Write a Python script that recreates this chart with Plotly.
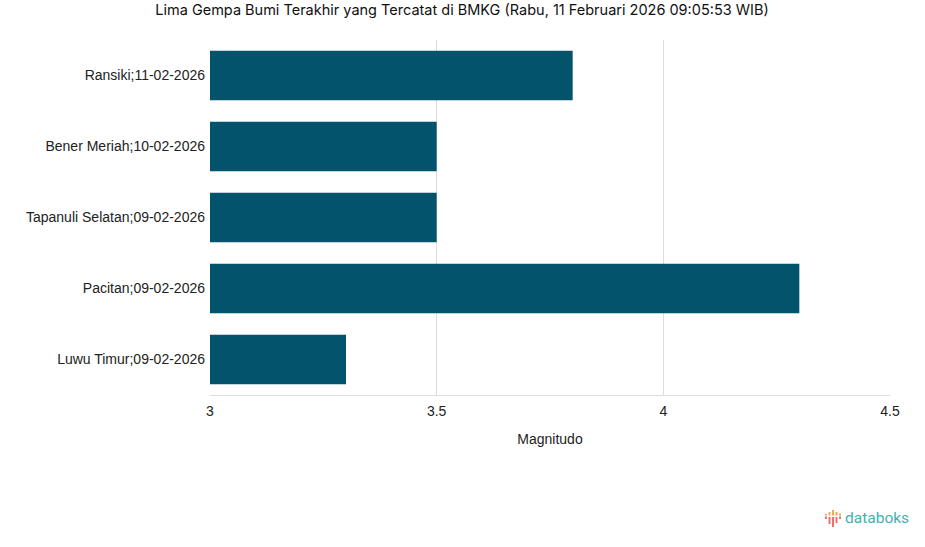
import plotly.graph_objects as go

categories = ["Ransiki;11-02-2026", "Bener Meriah;10-02-2026", "Tapanuli Selatan;09-02-2026",
              "Pacitan;09-02-2026", "Luwu Timur;09-02-2026"]
magnitudes = [3.8, 3.5, 3.5, 4.3, 3.3]
tick_vals = [3, 3.5, 4, 4.5]
tick_text = ["3", "3.5", "4", "4.5"]

fig = go.Figure(go.Bar(
    y=categories, x=magnitudes, orientation="h",
    marker=dict(color="#02536B", line=dict(width=0)),
    width=0.7, base=0,
))

fig.update_layout(
    width=925, height=547,
    margin=dict(l=210, r=35, t=40, b=152),
    paper_bgcolor="white", plot_bgcolor="white",
    title=dict(text="Lima Gempa Bumi Terakhir yang Tercatat di BMKG (Rabu, 11 Februari 2026 09:05:53 WIB)",
               x=462 / 925, xanchor="center", y=1 - 10 / 547, yanchor="middle",
               font=dict(family="Inter", size=14.5, color="#111111")),
    showlegend=False,
    font=dict(family="Liberation Sans, Arial", size=14, color="#222222"),
    bargap=0.3,
)
fig.update_xaxes(range=[3, 4.5], tickvals=tick_vals, ticktext=tick_text,
                 showgrid=True, gridcolor="#dddddd", gridwidth=1,
                 zeroline=False, showline=True, linecolor="#dddddd",
                 ticks="", ticklen=0, ticklabelstandoff=3,
                 title=dict(text="Magnitudo", font=dict(size=14, color="#222222"), standoff=16),
                 tickfont=dict(size=14, color="#222222"))
fig.update_yaxes(categoryorder="array", categoryarray=categories[::-1],
                 showgrid=False, showline=False, ticks="", ticklen=0, ticklabelstandoff=4,
                 tickfont=dict(size=14, color="#222222"))

# databoks logo (decoration, paper coordinates)
def px(xp):
    return (xp - 210) / 680

def py(yp):
    return (395 - yp) / 355

logo_cols = [825, 828.5, 832, 835.5, 839]
logo_orange = [(514, 515.5), (512, 515.5), (510, 515.5), (512, 515.5), (513.5, 515.5)]
logo_red = [(516.5, 519), (517, 524), (517, 527), (517, 523), (516.5, 519)]
for xc, (o0, o1), (r0, r1) in zip(logo_cols, logo_orange, logo_red):
    fig.add_shape(type="rect", xref="paper", yref="paper",
                  x0=px(xc), x1=px(xc + 2), y0=py(o1), y1=py(o0),
                  fillcolor="#F5A55A", line=dict(width=0))
    fig.add_shape(type="rect", xref="paper", yref="paper",
                  x0=px(xc), x1=px(xc + 2), y0=py(r1), y1=py(r0),
                  fillcolor="#EF6F68", line=dict(width=0))
fig.add_annotation(text="databoks", xref="paper", yref="paper",
                   x=px(843), y=py(518), xanchor="left", yanchor="middle",
                   showarrow=False, font=dict(family="Roboto", size=15.5, color="#3DB3AE"))

fig.write_html("out.html", config={"displayModeBar": False},
               post_script="document.body.style.margin='0';")
